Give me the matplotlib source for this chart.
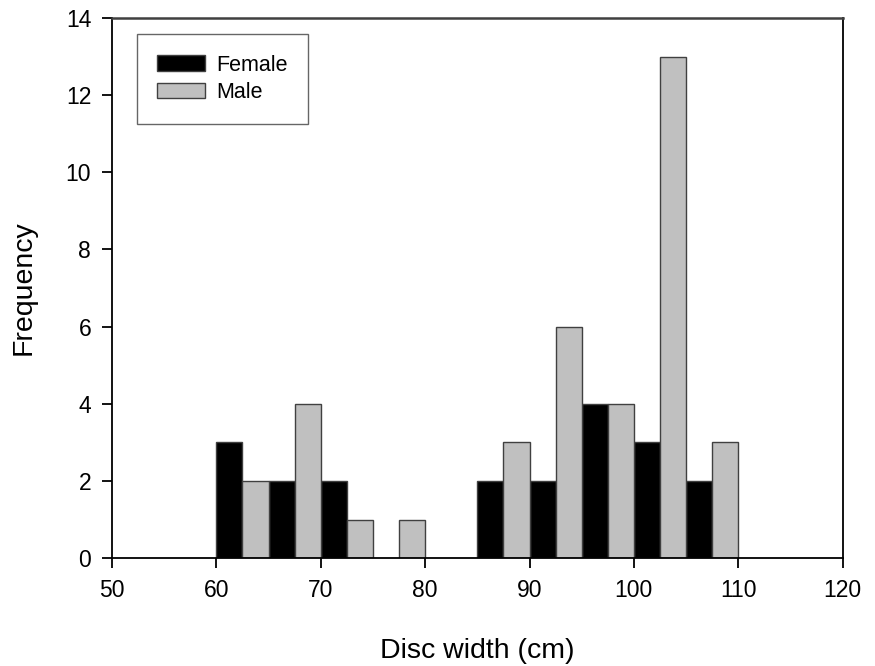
import matplotlib
matplotlib.use("Agg")
import matplotlib.pyplot as plt
import numpy as np
from matplotlib.patches import Patch

plt.rcParams['font.family'] = ['Liberation Sans', 'DejaVu Sans']

bin_starts = [60, 65, 70, 75, 80, 85, 90, 95, 100, 105]
female = [3, 2, 2, 0, 0, 2, 2, 4, 3, 2]
male = [2, 4, 1, 1, 0, 3, 6, 4, 13, 3]
bin_width = 5

fig = plt.figure(figsize=(8.75, 6.66), dpi=100)
ax = fig.add_axes([0.128, 0.162, 0.835, 0.811])

x = np.array(bin_starts, dtype=float)
hw = bin_width / 2
for xi, f in zip(x, female):
    if f > 0:
        ax.bar(xi, f, width=hw, align='edge', color='black', edgecolor='#404040', linewidth=1)
for xi, m in zip(x, male):
    if m > 0:
        ax.bar(xi + hw, m, width=hw, align='edge', color='#c0c0c0', edgecolor='#404040', linewidth=1)

ax.set_xlim(50, 120)
ax.set_ylim(0, 14)
ax.set_xticks(np.arange(50, 121, 10))
ax.set_yticks(np.arange(0, 15, 2))
ax.tick_params(direction='out', length=7, width=1.3, labelsize=16.5, top=False, right=False, pad=8)
for s in ['left', 'bottom', 'right']:
    ax.spines[s].set_linewidth(1.3)
    ax.spines[s].set_color('black')
ax.spines['top'].set_linewidth(1.8)
ax.spines['top'].set_color('#404040')

ax.set_xlabel('Disc width (cm)', fontsize=20.5, labelpad=26)
ax.set_ylabel('Frequency', fontsize=20.5, labelpad=21)

handles = [Patch(facecolor='black', edgecolor='#404040', label='Female'),
           Patch(facecolor='#c0c0c0', edgecolor='#404040', label='Male')]
leg = ax.legend(handles=handles, loc='upper left', bbox_to_anchor=(0.034, 0.97),
                fontsize=15.5, frameon=True, fancybox=False, edgecolor='#404040',
                handlelength=2.2, handleheight=0.75, borderpad=0.95, labelspacing=0.3,
                handletextpad=0.55, borderaxespad=0)
leg.get_frame().set_linewidth(1.0)

fig.savefig('out.png', dpi=100)
